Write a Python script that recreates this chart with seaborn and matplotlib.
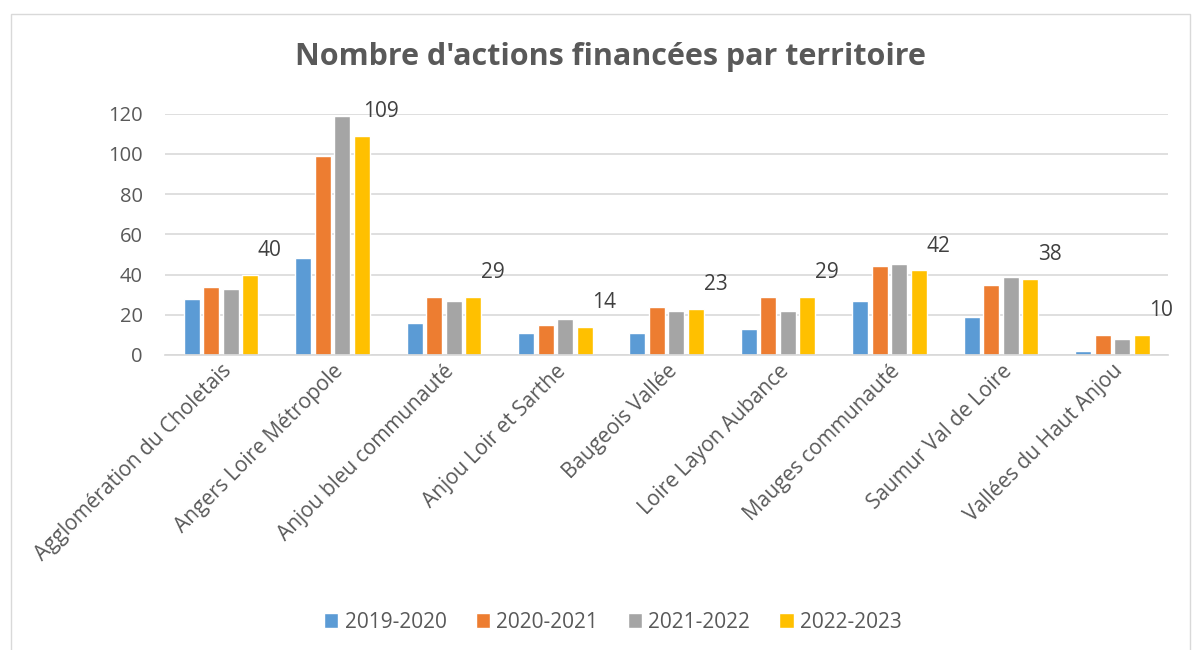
import pandas as pd
import seaborn as sns
import matplotlib.pyplot as plt
from matplotlib.patches import Rectangle

territoires = ["Agglomération du Choletais", "Angers Loire Métropole", "Anjou bleu communauté",
               "Anjou Loir et Sarthe", "Baugeois Vallée", "Loire Layon Aubance",
               "Mauges communauté", "Saumur Val de Loire", "Vallées du Haut Anjou"]
annees = ["2019-2020", "2020-2021", "2021-2022", "2022-2023"]
v_2019 = [28, 48, 16, 11, 11, 13, 27, 19, 2]
v_2020 = [34, 99, 29, 15, 24, 29, 44, 35, 10]
v_2021 = [33, 119, 27, 18, 22, 22, 45, 39, 8]
v_2022 = [40, 109, 29, 14, 23, 29, 42, 38, 10]
couleurs = ["#5B9BD5", "#ED7D31", "#A5A5A5", "#FFC000"]

rows = []
for annee, vals in zip(annees, [v_2019, v_2020, v_2021, v_2022]):
    for t, v in zip(territoires, vals):
        rows.append({"Territoire": t, "Année": annee, "Actions": v})
df = pd.DataFrame(rows)

sns.set_theme(style="white")
plt.rcParams['font.family'] = ['Open Sans', 'DejaVu Sans']
txt = "#595959"

fig = plt.figure(figsize=(11.97, 6.5), dpi=100)
ax = fig.add_axes([0.138, 0.454, 0.838, 0.371])

sns.barplot(data=df, x="Territoire", y="Actions", hue="Année", palette=couleurs,
            saturation=1, width=0.7, gap=0.18, ax=ax, legend=True)

ax.set_ylim(0, 120)
ax.set_yticks(range(0, 121, 20))
ax.yaxis.grid(True, color="#D9D9D9", linewidth=1.2)
ax.set_axisbelow(True)
for s in ["top", "right", "left"]:
    ax.spines[s].set_visible(False)
ax.spines["bottom"].set_color("#D9D9D9")
ax.set_xlabel("")
ax.set_ylabel("")
ax.tick_params(axis="y", labelsize=14.5, colors=txt, length=0, pad=16)
ax.tick_params(axis="x", labelsize=15, colors=txt, length=0, pad=4)
plt.setp(ax.get_xticklabels(), rotation=45, ha="right", rotation_mode="anchor")

# labels on the last season only
last = ax.containers[-1]
for bar, v in zip(last, v_2022):
    ax.annotate(str(v), (bar.get_x() + bar.get_width() / 2, bar.get_height()),
                xytext=(14, 10), textcoords="offset points", ha="center", va="bottom",
                fontsize=15, color="#404040")

ax.legend(loc="center", bbox_to_anchor=(0.512, 0.043), bbox_transform=fig.transFigure,
          ncol=4, frameon=False, fontsize=15, handlelength=0.7, handleheight=0.7,
          columnspacing=1.4, handletextpad=0.3, labelcolor=txt)

fig.suptitle("Nombre d'actions financées par territoire", x=0.51, y=0.935,
             fontsize=22, fontweight="bold", color=txt)

fig.patches.append(Rectangle((0.009, -0.05), 0.985, 1.028, transform=fig.transFigure,
                             fill=False, edgecolor="#D9D9D9", linewidth=1))

fig.savefig("out.png", dpi=100, facecolor="white")
